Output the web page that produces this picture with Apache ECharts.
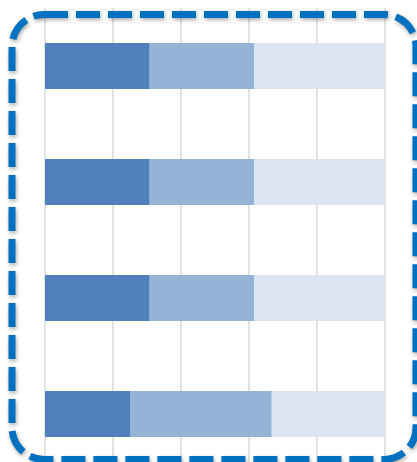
<!DOCTYPE html>
<html>
<head>
<meta charset="utf-8">
<script src="https://cdn.jsdelivr.net/npm/echarts@6/dist/echarts.min.js"></script>
<style>
  html, body { margin: 0; padding: 0; background: #ffffff; }
  #chart { width: 417px; height: 462px; }
</style>
</head>
<body>
<div id="chart"></div>
<script>
// Rows, top to bottom
const categories = ['Row 1', 'Row 2', 'Row 3', 'Row 4'];

// Share of each segment in a row (percent, stacked to 100)
const partA = [30.8, 30.8, 30.8, 25.0];
const partB = [30.8, 30.8, 30.8, 41.7];
const partC = [38.4, 38.4, 38.4, 33.3];

// Value axis ticks
const axisMin = 0;
const axisMax = 100;
const axisStep = 20;

const colors = ['#4f81bd', '#95b3d7', '#dce6f1'];

const chart = echarts.init(document.getElementById('chart'), null, { renderer: 'canvas' });

function segment(name, values, color) {
  return {
    name: name,
    type: 'bar',
    stack: 'total',
    barWidth: 46,
    data: values,
    itemStyle: { color: color },
    emphasis: { disabled: true },
    silent: true
  };
}

chart.setOption({
  animation: false,
  backgroundColor: '#ffffff',
  // the plot runs past the bottom edge, so the last row sits low in the frame
  grid: {
    left: 45, top: 8, right: 32, bottom: -10,
    containLabel: false,
    outerBoundsMode: 'none'
  },
  xAxis: {
    type: 'value',
    min: axisMin,
    max: axisMax,
    interval: axisStep,
    axisLine: { show: false },
    axisTick: { show: false },
    axisLabel: { show: false },
    splitLine: { show: true, lineStyle: { color: '#d9d9d9', width: 1.5 } }
  },
  yAxis: {
    type: 'category',
    data: categories,
    inverse: true,
    axisLine: { show: false },
    axisTick: { show: false },
    axisLabel: { show: false },
    splitLine: { show: false }
  },
  series: [
    segment('A', partA, colors[0]),
    segment('B', partB, colors[1]),
    segment('C', partC, colors[2])
  ],
  graphic: [{
    type: 'rect',
    z: 100,
    silent: true,
    shape: { x: 12, y: 14.5, width: 404, height: 445, r: 32 },
    style: {
      fill: 'none',
      stroke: '#0070c0',
      lineWidth: 7,
      lineDash: [24, 8],
      shadowColor: 'rgba(0,0,0,0.35)',
      shadowBlur: 4,
      shadowOffsetX: 1,
      shadowOffsetY: 2
    }
  }]
});
</script>
</body>
</html>
